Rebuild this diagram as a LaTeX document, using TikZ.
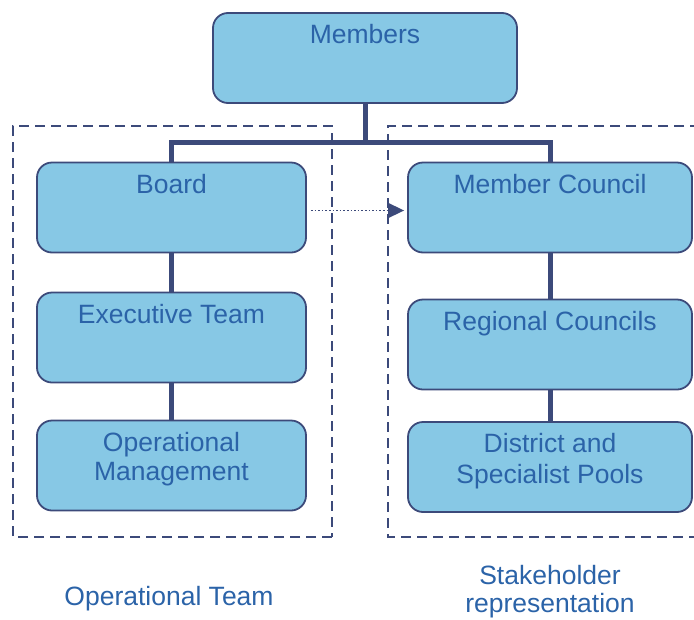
\documentclass[tikz,border=0pt]{standalone}
\usepackage{fontspec}
\setmainfont{Liberation Sans}
\usetikzlibrary{arrows.meta}
\definecolor{boxfill}{HTML}{87C8E5}
\definecolor{navy}{HTML}{3C4A7A}
\definecolor{txtblue}{HTML}{2B63A8}
\begin{document}
\begin{tikzpicture}[x=1pt,y=-1pt,
  orgbox/.style={draw=navy, line width=1.8pt, fill=boxfill, rounded corners=15pt,
    minimum width=#1, minimum height=90pt, inner sep=0pt},
  orgbox/.default=269pt,
  boxtext/.style={anchor=north, text=txtblue, font=\fontsize{26.5}{30}\selectfont,
    align=center, inner sep=0pt},
  tie/.style={draw=navy, line width=5pt},
  group/.style={draw=navy, line width=1.8pt, dash pattern=on 10pt off 6pt},
  caption/.style={text=txtblue, font=\fontsize{26.5}{29}\selectfont, align=center}
]
\useasboundingbox (0,0) rectangle (694,619);

% dashed group frames
\draw[group] (332,537) -- (13,537) -- (13,126) -- (332,126) -- cycle;
\draw[group] (700,126) -- (388,126) -- (388,537) -- (700,537);

% boxes
\node[orgbox=304pt] (members) at (365,58) {};
\node[orgbox] (board) at (171.5,207.5) {};
\node[orgbox] (exec) at (171.5,337.5) {};
\node[orgbox] (opm) at (171.5,465.5) {};
\node[orgbox=284pt] (mc) at (550,207.5) {};
\node[orgbox=284pt] (rc) at (550,344.5) {};
\node[orgbox=284pt] (dsp) at (550,467) {};

% box texts
\node[boxtext] (members-t) at ([yshift=-12pt]members.north) {Members};
\node[boxtext] (board-t) at ([yshift=-12pt]board.north) {Board};
\node[boxtext] (exec-t) at ([yshift=-12pt]exec.north) {Executive Team};
\node[boxtext, font=\fontsize{26.5}{29}\selectfont] (opm-t) at ([yshift=-12pt]opm.north) {Operational\\Management};
\node[boxtext] (mc-t) at ([yshift=-12pt]mc.north) {Member Council};
\node[boxtext] (rc-t) at ([yshift=-12pt]rc.north) {Regional Councils};
\node[boxtext, font=\fontsize{26.5}{31}\selectfont] (dsp-t) at ([yshift=-12pt]dsp.north) {District and\\Specialist Pools};

% reporting lines
\coordinate (split) at (365,142);
\draw[tie] (members.south) -- (split);
\draw[tie] (board.north) |- (split) -| (mc.north);
\draw[tie] (board.south) -- (exec.north);
\draw[tie] (exec.south) -- (opm.north);
\draw[tie] (mc.south) -- (rc.north);
\draw[tie] (rc.south) -- (dsp.north);

% dotted link from the board to the member council
\draw[navy, line width=1.6pt, dash pattern=on 1.6pt off 2pt,
  -{Triangle[length=16pt,width=15pt]}]
  ([xshift=4pt,yshift=-3pt]board.east) -- ([xshift=-3pt,yshift=-3pt]mc.west);

% group captions
\node[caption] (optm) at (169,599) {Operational Team};
\node[caption, font=\fontsize{26.5}{28.5}\selectfont] (stake) at (550,591.5) {Stakeholder\\representation};
\end{tikzpicture}
\end{document}
